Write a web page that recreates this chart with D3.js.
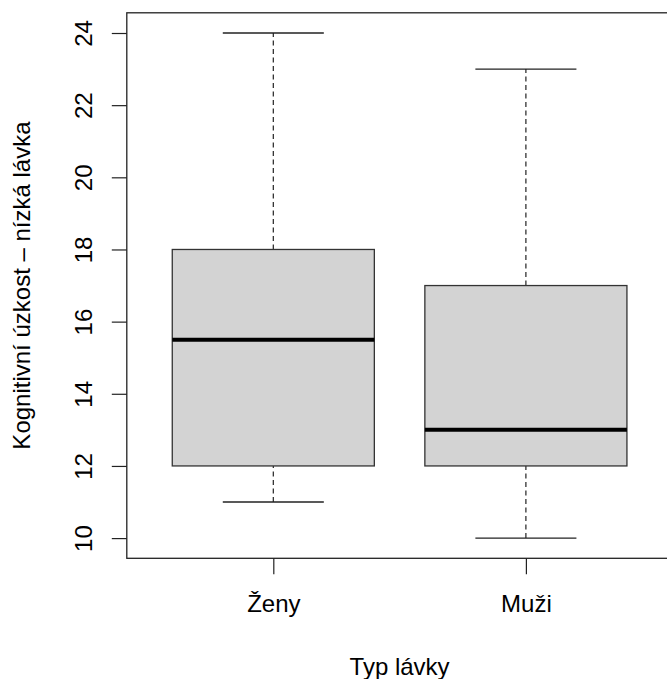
<!DOCTYPE html>
<html>
<head>
<meta charset="utf-8">
<script src="https://cdn.jsdelivr.net/npm/d3@7"></script>
<style>
  body { margin: 0; background: #fff; }
  svg { display: block; font-family: "Liberation Sans", Arial, sans-serif; }
</style>
</head>
<body>
<svg id="chart" width="667" height="679"></svg>
<script>
const categories = ["Ženy", "Muži"];
const mins    = [11, 10];
const q1s     = [12, 12];
const medians = [15.5, 13];
const q3s     = [18, 17];
const maxs    = [24, 23];
const yTicks  = [10, 12, 14, 16, 18, 20, 22, 24];
const xTitle  = "Typ lávky";
const yTitle  = "Kognitivní úzkost – nízká lávka";

(function () {
const boxes = categories.map((c, i) => ({
  cat: c, pos: i + 1, min: mins[i], q1: q1s[i], med: medians[i], q3: q3s[i], max: maxs[i]
}));

const svg = d3.select("#chart");
const pLeft = 126.8, pRight = 672.4, pTop = 12.8, pBottom = 558.3;
const fontSize = 24;
const ink = "#222";

const x = d3.scaleLinear().domain([0.42, 2.58]).range([pLeft, pRight]);
const y = d3.scaleLinear().domain([9.44, 24.56]).range([pBottom, pTop]);
const boxHalf = 0.4, capHalf = 0.2;

const g = svg.append("g");

// whiskers (dashed)
g.selectAll("line.wlow").data(boxes).join("line")
  .attr("x1", d => x(d.pos)).attr("x2", d => x(d.pos))
  .attr("y1", d => y(d.min)).attr("y2", d => y(d.q1))
  .attr("stroke", ink).attr("stroke-width", 1.2).attr("stroke-dasharray", "5,3.5");
g.selectAll("line.whigh").data(boxes).join("line")
  .attr("x1", d => x(d.pos)).attr("x2", d => x(d.pos))
  .attr("y1", d => y(d.q3)).attr("y2", d => y(d.max))
  .attr("stroke", ink).attr("stroke-width", 1.2).attr("stroke-dasharray", "5,3.5");
// caps
g.selectAll("line.capl").data(boxes).join("line")
  .attr("x1", d => x(d.pos - capHalf)).attr("x2", d => x(d.pos + capHalf))
  .attr("y1", d => y(d.min)).attr("y2", d => y(d.min))
  .attr("stroke", ink).attr("stroke-width", 1.4);
g.selectAll("line.caph").data(boxes).join("line")
  .attr("x1", d => x(d.pos - capHalf)).attr("x2", d => x(d.pos + capHalf))
  .attr("y1", d => y(d.max)).attr("y2", d => y(d.max))
  .attr("stroke", ink).attr("stroke-width", 1.4);
// boxes
g.selectAll("rect.box").data(boxes).join("rect")
  .attr("x", d => x(d.pos - boxHalf))
  .attr("width", d => x(d.pos + boxHalf) - x(d.pos - boxHalf))
  .attr("y", d => y(d.q3))
  .attr("height", d => y(d.q1) - y(d.q3))
  .attr("fill", "#d3d3d3").attr("stroke", "#333").attr("stroke-width", 1.3);
// medians
g.selectAll("line.med").data(boxes).join("line")
  .attr("x1", d => x(d.pos - boxHalf)).attr("x2", d => x(d.pos + boxHalf))
  .attr("y1", d => y(d.med)).attr("y2", d => y(d.med))
  .attr("stroke", "#000").attr("stroke-width", 4);

// frame
svg.append("rect")
  .attr("x", pLeft).attr("y", pTop)
  .attr("width", pRight - pLeft).attr("height", pBottom - pTop)
  .attr("fill", "none").attr("stroke", ink).attr("stroke-width", 1.3);

// y axis
const yAxis = svg.append("g").attr("transform", `translate(${pLeft},0)`)
  .call(d3.axisLeft(y).tickValues(yTicks).tickSize(15).tickPadding(0).tickFormat(d3.format("d")));
yAxis.select(".domain").remove();
yAxis.selectAll(".tick line").attr("stroke", ink).attr("stroke-width", 1.2);
yAxis.selectAll(".tick text")
  .attr("x", 0).attr("y", 0).attr("dy", null)
  .attr("transform", "translate(-35,0) rotate(-90)")
  .attr("text-anchor", "middle")
  .attr("fill", "#000")
  .style("font-size", fontSize + "px");

// x axis
const xAxis = svg.append("g").attr("transform", `translate(0,${pBottom})`)
  .call(d3.axisBottom(x).tickValues(boxes.map(d => d.pos)).tickSize(16).tickPadding(0)
    .tickFormat((d, i) => categories[i]));
xAxis.select(".domain").remove();
xAxis.selectAll(".tick line").attr("stroke", ink).attr("stroke-width", 1.2);
xAxis.selectAll(".tick text")
  .attr("y", 54).attr("dy", null)
  .attr("fill", "#000")
  .style("font-size", fontSize + "px");

// titles
svg.append("text")
  .attr("x", (pLeft + pRight) / 2).attr("y", 675)
  .attr("text-anchor", "middle")
  .style("font-size", fontSize + "px")
  .text(xTitle);
svg.append("text")
  .attr("transform", `translate(30,${(pTop + pBottom) / 2}) rotate(-90)`)
  .attr("text-anchor", "middle")
  .style("font-size", fontSize + "px")
  .text(yTitle);
})();
</script>
</body>
</html>
